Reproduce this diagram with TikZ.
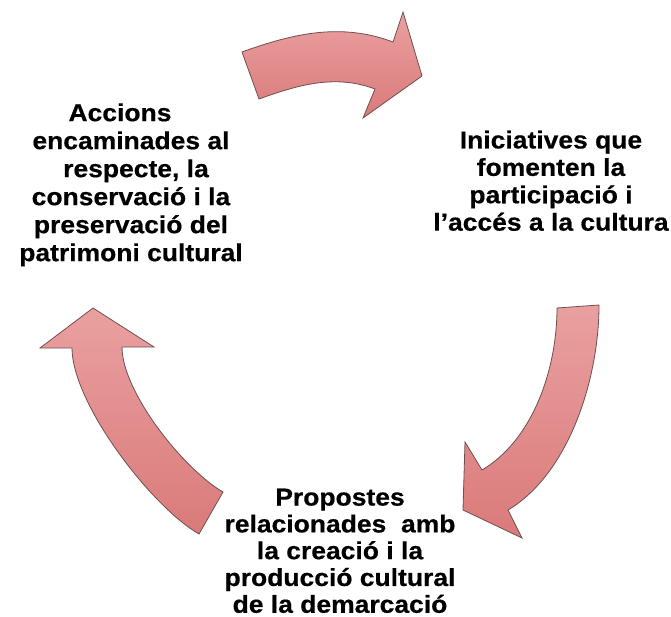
\documentclass[tikz,border=0pt]{standalone}
\usepackage{fontspec}
\setmainfont[FakeStretch=1.08, BoldFeatures={FakeBold=0.5}]{Liberation Sans}
\definecolor{arrtop}{RGB}{234,160,160}
\definecolor{arrbot}{RGB}{218,122,122}
\definecolor{arredge}{RGB}{110,80,80}
\tikzset{
  arrowshape/.style={draw=arredge, line width=0.8pt, top color=arrtop, bottom color=arrbot, line join=miter},
  blocktext/.style={font=\fontsize{24.5}{#1}\selectfont\bfseries, align=center, inner sep=0pt, anchor=north, text=black}
}
\begin{document}
\begin{tikzpicture}[x=1pt,y=-1pt]
\useasboundingbox (0,0) rectangle (671,617);
% top arrow
\path[arrowshape] (242,52) .. controls (293.7,33.3) and (341.3,22.5) .. (393,42)
  -- (403,12) -- (422,76) -- (363,118) -- (375,89)
  .. controls (335.5,74.1) and (298.5,84.7) .. (259,99) -- cycle;
% right arrow
\path[arrowshape] (599,305) .. controls (599,380) and (568.2,474.3) .. (508,510)
  -- (522,538) -- (463,510) -- (465,442) -- (482,470)
  .. controls (533.6,439.4) and (557,368) .. (557,308) -- cycle;
% left arrow
\path[arrowshape] (223,492) .. controls (183.9,469.5) and (122,392) .. (122,347)
  -- (154,347) -- (93,308) -- (40,348) -- (72,348)
  .. controls (72,403) and (151.1,506.5) .. (199,534) -- cycle;
% texts
\node[blocktext=28] (accions) at (131,103.2) {Accions\hspace*{22pt}\\encaminades al\\\hspace*{10pt}respecte, la\\conservació i la\\preservació del\\patrimoni cultural};
\node[blocktext=27.4] (iniciatives) at (551,130.5) {Iniciatives que\\fomenten la\\participació i\\l’accés a la cultura};
\node[blocktext=26.8] (propostes) at (340,488.5) {Propostes\\relacionades\ \ amb\\la creació i la\\producció cultural\\de la demarcació};
\end{tikzpicture}
\end{document}
